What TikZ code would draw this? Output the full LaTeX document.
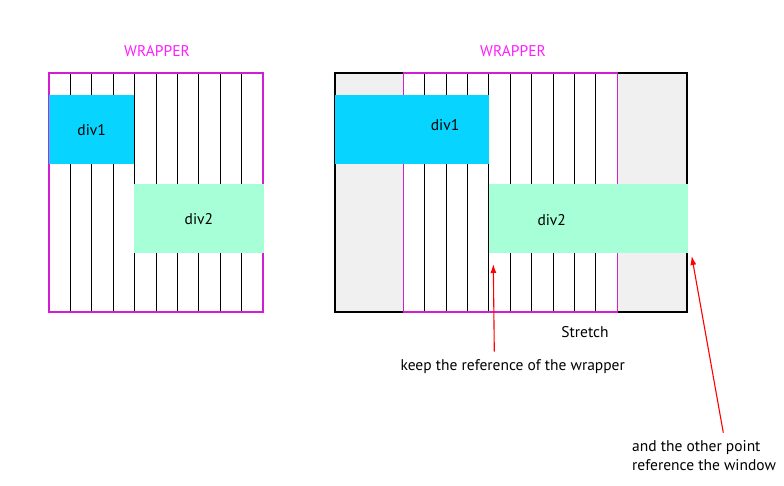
\documentclass[tikz,border=0pt]{standalone}
\usepackage{fontspec}
\setmainfont{PT Sans}
\usetikzlibrary{arrows.meta}
\definecolor{wrapmag}{HTML}{D21ED2}
\definecolor{wraptxt}{HTML}{FF1EFF}
\definecolor{divcyan}{HTML}{08D5FF}
\definecolor{divmint}{HTML}{A6FFD6}
\definecolor{winfill}{HTML}{F0F0F0}
\tikzset{>={Latex[length=9pt,width=6pt]}}
\tikzset{
  column/.style = {black, line width=0.9pt},
  wrapbox/.style = {draw=wrapmag, line width=1.4pt},
  lbl/.style = {font=\fontsize{15.5}{19}\selectfont, inner sep=1pt},
  divbox/.style = {inner sep=0pt, anchor=north west},
  pointer/.style = {->, red, line width=1.1pt}
}

\begin{document}
\begin{tikzpicture}[x=1pt, y=-1pt]

    \useasboundingbox (0,0) rectangle (784,486);

    % left: the wrapper alone
    \node[lbl, text=wraptxt] (wrapL) at (157,51) {WRAPPER};
    \foreach \i in {1,...,9}
        \draw[column] ({49+21.4*\i},73) -- ({49+21.4*\i},312);
    \draw[wrapbox] (49,73) rectangle (263,312);
    \node[lbl, divbox, fill=divcyan, minimum width=85pt, minimum height=69pt] (divoneL) at (49,95) {div1};
    \node[lbl, divbox, fill=divmint, minimum width=129.5pt, minimum height=69pt] (divtwoL) at (134,184) {div2};

    % right: the window, wider than the wrapper
    \node[lbl, text=wraptxt] (wrapR) at (513,51) {WRAPPER};
    \fill[winfill] (335,73) rectangle (687,312);
    \fill[white] (403.3,73) rectangle (617.3,312);
    \draw[black, line width=1.1pt] (335,73) rectangle (687,312);
    \begin{scope}[xshift=354.3pt]
        \foreach \i in {1,...,9}
            \draw[column] ({49+21.4*\i},73) -- ({49+21.4*\i},312);
        \draw[wrapbox] (49,73) rectangle (263,312);
    \end{scope}
    \node[divbox, fill=divcyan, minimum width=154pt, minimum height=69pt] (divoneR) at (334.4,95) {};
    \node[lbl] (divoneRtxt) at (445,125) {div1};
    \node[divbox, fill=divmint, minimum width=199.5pt, minimum height=69pt] (divtwoR) at (488.3,184) {};
    \node[lbl] (divtwoRtxt) at (551.7,220) {div2};

    \node[lbl] (stretch) at (585,331.7) {Stretch};
    \node[lbl] (keep) at (512.7,366.7) {keep the reference of the wrapper};
    \node[lbl, align=left, anchor=west] (other) at (631,455.5) {and the other point\\reference the window};

    \coordinate (keeptail) at (494.3,351.7);
    \coordinate (keeptip) at (493.3,264);
    \draw[pointer] (keeptail) -- (keeptip);
    \coordinate (wintail) at (723.3,432.7);
    \coordinate (wintip) at (691.7,256);
    \draw[pointer] (wintail) -- (wintip);

\end{tikzpicture}
\end{document}
